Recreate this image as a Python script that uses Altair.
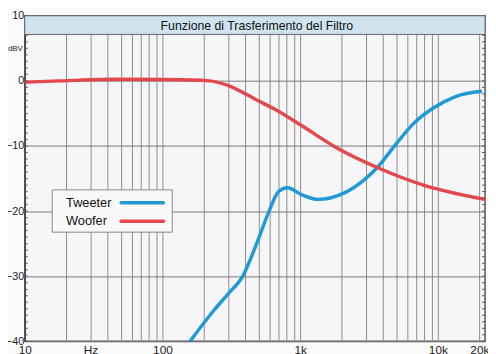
import altair as alt
import pandas as pd

# ---- data ----
woofer_freq = [10, 18, 48, 108, 220, 291, 500, 660, 1030, 1780, 3630, 7850, 22000]
woofer_db = [-0.2, 0.0, 0.25, 0.2, 0.0, -0.6, -3.1, -4.4, -6.9, -10.1, -13.3, -16.0, -18.2]

tweeter_freq = [156, 235, 300, 385, 477, 590, 697, 808, 1030, 1346, 2096, 2914, 3630, 5010, 6620, 9200, 13460, 20900]
tweeter_db = [-40.2, -35.3, -32.7, -29.9, -25.3, -20.2, -17.0, -16.4, -17.5, -18.2, -17.2, -15.2, -13.3, -9.6, -6.6, -4.2, -2.4, -1.6]

grid_freqs = [10, 20, 30, 40, 50, 60, 70, 80, 90,
              100, 200, 300, 400, 500, 600, 700, 800, 900,
              1000, 2000, 3000, 4000, 5000, 6000, 7000, 8000, 9000,
              10000, 20000]
x_labels = {10: "10", 30: "Hz", 100: "100", 1000: "1k", 10000: "10k", 20000: "20k"}
y_ticks = [-40, -30, -20, -10, 0, 10]
minor_y = list(range(-40, 11))

title_text = "Funzione di Trasferimento del Filtro"
unit_text = "dBV"
series_names = ["Tweeter", "Woofer"]
series_colors = ["#1f9ad6", "#e4474c"]

W, H = 468, 331

df = pd.concat([
    pd.DataFrame({"f": tweeter_freq, "db": tweeter_db, "s": "Tweeter"}),
    pd.DataFrame({"f": woofer_freq, "db": woofer_db, "s": "Woofer"}),
])

label_expr = " : ".join(
    f"datum.value == {k} ? '{v}'" for k, v in x_labels.items()
) + " : ''"

xscale = alt.Scale(type="log", domain=[10, 22000], nice=False)
yscale = alt.Scale(domain=[-40, 10], nice=False)

x_enc = alt.X("f:Q", scale=xscale, axis=alt.Axis(
    values=grid_freqs, labelExpr=label_expr, ticks=False, grid=True,
    gridColor="#8c8c8c", gridWidth=1, domain=False, title=None,
    labelFontSize=12, labelPadding=3, labelOverlap=False, labelFlush=False,
    labelColor="#222", labelFont="Liberation Sans"))
y_enc = alt.Y("db:Q", scale=yscale, axis=alt.Axis(
    values=y_ticks, ticks=False, grid=True, gridColor="#7a7a7a", gridWidth=1,
    domain=True, domainColor="#444", domainWidth=1.5, title=None,
    labelFontSize=11, labelPadding=1, labelColor="#222",
    labelFont="Liberation Sans", labelFlush=False, labelOverlap=False))

lines = alt.Chart(df).mark_line(strokeWidth=3.5, interpolate="monotone", clip=True).encode(
    x=x_enc, y=y_enc,
    color=alt.Color("s:N", scale=alt.Scale(domain=series_names, range=series_colors), legend=None),
)

ticks_df = pd.DataFrame({"v": minor_y})
left_ticks = alt.Chart(ticks_df).mark_rule(color="#555", strokeWidth=1).encode(
    y=alt.Y("v:Q", scale=yscale), x=alt.value(0), x2=alt.value(3))
right_ticks = alt.Chart(ticks_df).mark_rule(color="#555", strokeWidth=1).encode(
    y=alt.Y("v:Q", scale=yscale), x=alt.value(W - 3), x2=alt.value(W))

title_bar = alt.Chart(pd.DataFrame({"t": [title_text]})).mark_rect(
    fill="#cfe4ef", stroke="#666", strokeWidth=1).encode(
    x=alt.value(0), x2=alt.value(W), y=alt.value(0), y2=alt.value(19))
title_txt = alt.Chart(pd.DataFrame({"t": [title_text]})).mark_text(
    fontSize=12.5, font="Liberation Sans", color="#111", baseline="middle").encode(
    text="t:N", x=alt.value(236), y=alt.value(10))

unit = alt.Chart(pd.DataFrame({"t": [unit_text]})).mark_text(
    fontSize=8, font="Liberation Sans", color="#222", align="right", baseline="middle").encode(
    text="t:N", x=alt.value(-2), y=alt.value(34))

leg_box = alt.Chart(pd.DataFrame({"t": ["box"]})).mark_rect(
    fill="#f9f9fa", stroke="#888", strokeWidth=1).encode(
    x=alt.value(28), x2=alt.value(150), y=alt.value(177), y2=alt.value(220))
leg_df = pd.DataFrame({"s": series_names, "yy": [190, 209]})
leg_text = alt.Chart(leg_df).mark_text(
    fontSize=13, font="Liberation Sans", color="#111", align="left", baseline="middle").encode(
    text="s:N", x=alt.value(42), y=alt.Y("yy:Q", scale=None))
leg_lines = alt.Chart(leg_df).mark_rule(strokeWidth=3.5, strokeCap="round").encode(
    x=alt.value(98), x2=alt.value(141), y=alt.Y("yy:Q", scale=None),
    color=alt.Color("s:N", scale=alt.Scale(domain=series_names, range=series_colors), legend=None))

chart = alt.layer(
    lines, left_ticks, right_ticks, title_bar, title_txt, unit,
    leg_box, leg_text, leg_lines
).resolve_scale(y="shared").properties(
    width=W, height=H,
    autosize=alt.AutoSizeParams(type="none"),
    padding={"left": 17, "top": 5, "right": 3, "bottom": 12},
    background="#fbfbfb",
).configure_view(
    fill="#f6f6f8", stroke="#555", strokeWidth=1.5
)

chart.save("out.html", embed_options={"renderer": "svg", "actions": False})
